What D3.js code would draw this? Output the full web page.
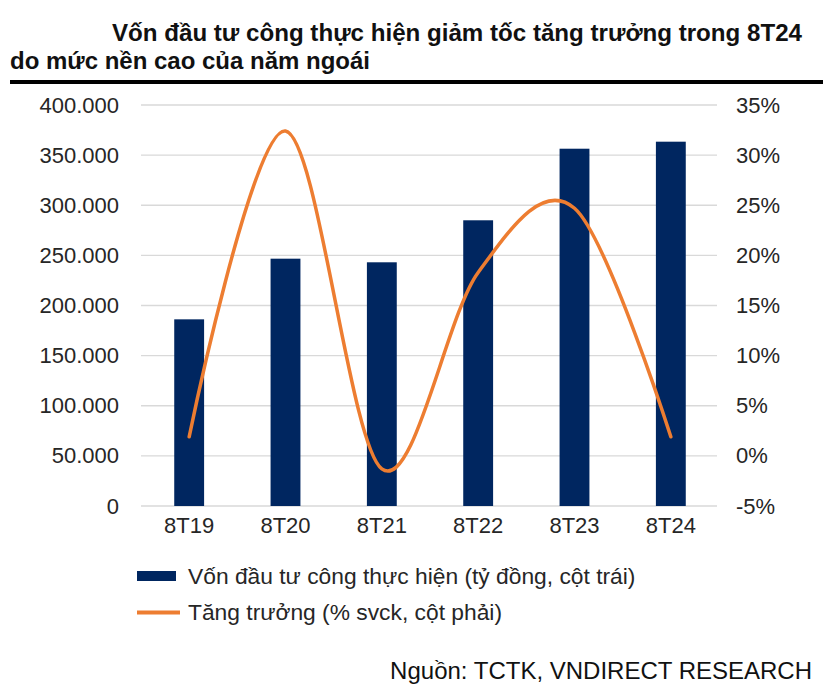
<!DOCTYPE html>
<html>
<head>
<meta charset="utf-8">
<script src="https://cdn.jsdelivr.net/npm/d3@7"></script>
<style>
  body { margin: 0; background: #fff; }
  svg { display: block; }
  text { font-family: "Liberation Sans", Arial, sans-serif; fill: #262626; }
</style>
</head>
<body>
<svg id="chart" width="834" height="685"></svg>
<script>
// ---- data ----
const categories = ["8T19", "8T20", "8T21", "8T22", "8T23", "8T24"];
const capital = [186200, 246700, 243100, 285000, 356400, 363400];   // tỷ đồng (left axis)
const growth = [1.9, 32.4, -1.3, 18.3, 24.7, 1.9];                  // % svck (right axis)
const leftTicks = [0, 50000, 100000, 150000, 200000, 250000, 300000, 350000, 400000];
const rightTicks = [-5, 0, 5, 10, 15, 20, 25, 30, 35];
const titleLines = ["Vốn đầu tư công thực hiện giảm tốc tăng trưởng trong 8T24", "do mức nền cao của năm ngoái"];
const legendLabels = ["Vốn đầu tư công thực hiện (tỷ đồng, cột trái)", "Tăng trưởng (% svck, cột phải)"];
const sourceText = "Nguồn: TCTK, VNDIRECT RESEARCH";

const navy = "#002660", orange = "#ED7D31";
const svg = d3.select("#chart");
const FS = "22px";

// ---- title ----
svg.append("text").attr("x", 112).attr("y", 41)
  .style("font-size", "23px").style("font-weight", "bold").style("fill", "#111")
  .attr("textLength", 690).attr("lengthAdjust", "spacingAndGlyphs")
  .text(titleLines[0]);
svg.append("text").attr("x", 10).attr("y", 69)
  .style("font-size", "23px").style("font-weight", "bold").style("fill", "#111")
  .attr("textLength", 360).attr("lengthAdjust", "spacingAndGlyphs")
  .text(titleLines[1]);
svg.append("rect").attr("x", 10).attr("y", 80).attr("width", 813).attr("height", 4).attr("fill", "#000");

// ---- scales ----
const x = d3.scaleBand().domain(categories).range([141, 719]).paddingInner(0.69).paddingOuter(0.345);
const yL = d3.scaleLinear().domain([0, 400000]).range([506, 105]);
const yR = d3.scaleLinear().domain([-5, 35]).range([506, 105]);

// gridlines
svg.append("g").selectAll("line").data(leftTicks).join("line")
  .attr("x1", 141).attr("x2", 717)
  .attr("y1", d => yL(d)).attr("y2", d => yL(d))
  .attr("stroke", "#d9d9d9").attr("stroke-width", 1.3);

// left axis
const fmt = d => d === 0 ? "0" : d3.format(",")(d).replace(/,/g, ".");
const axL = svg.append("g").attr("transform", "translate(119,0)")
  .call(d3.axisLeft(yL).tickValues(leftTicks).tickFormat(fmt).tickSize(0).tickPadding(0));
axL.select(".domain").remove();
axL.selectAll("text").style("font-size", FS).style("font-family", "Liberation Sans, Arial, sans-serif").attr("fill", "#262626");

// right axis
const axR = svg.append("g").attr("transform", "translate(736,0)")
  .call(d3.axisRight(yR).tickValues(rightTicks).tickFormat(d => d + "%").tickSize(0).tickPadding(0));
axR.select(".domain").remove();
axR.selectAll("text").style("font-size", FS).style("font-family", "Liberation Sans, Arial, sans-serif").attr("fill", "#262626");

// bars
svg.append("g").selectAll("rect").data(categories).join("rect")
  .attr("x", d => x(d)).attr("width", x.bandwidth())
  .attr("y", (d, i) => yL(capital[i]))
  .attr("height", (d, i) => yL(0) - yL(capital[i]))
  .attr("fill", navy);

// x axis labels
const axX = svg.append("g").attr("transform", "translate(0,516)")
  .call(d3.axisBottom(x).tickSize(0).tickPadding(0));
axX.select(".domain").remove();
axX.selectAll("text").style("font-size", FS).style("font-family", "Liberation Sans, Arial, sans-serif").attr("fill", "#262626").attr("dy", "0.75em");

// growth line
const line = d3.line()
  .x((d, i) => x(categories[i]) + x.bandwidth() / 2)
  .y(d => yR(d))
  .curve(d3.curveCardinal.tension(0));
svg.append("path").datum(growth).attr("d", line)
  .attr("fill", "none").attr("stroke", orange).attr("stroke-width", 3.5)
  .attr("stroke-linecap", "round");

// legend
svg.append("rect").attr("x", 137).attr("y", 571).attr("width", 39).attr("height", 10).attr("fill", navy);
svg.append("line").attr("x1", 137).attr("x2", 180).attr("y1", 612.5).attr("y2", 612.5)
  .attr("stroke", orange).attr("stroke-width", 4);
svg.append("text").attr("x", 188).attr("y", 584).style("font-size", "22.8px").text(legendLabels[0]);
svg.append("text").attr("x", 188).attr("y", 620).style("font-size", "22.8px").text(legendLabels[1]);

// source
svg.append("text").attr("x", 812).attr("y", 679).attr("text-anchor", "end")
  .style("font-size", "24px").style("fill", "#111").text(sourceText);
</script>
</body>
</html>
